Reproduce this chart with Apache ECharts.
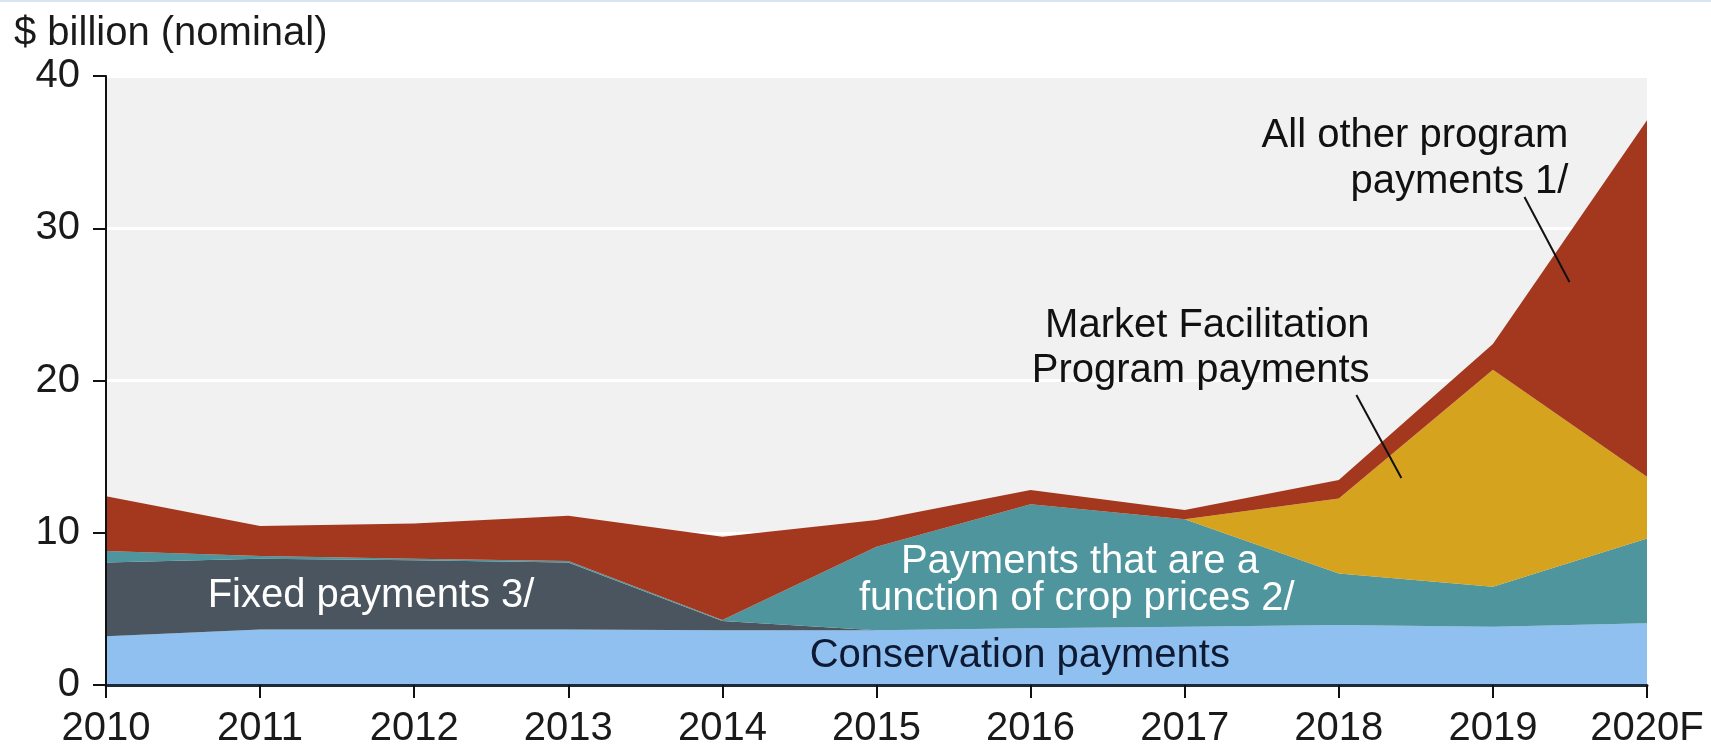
<!DOCTYPE html>
<html>
<head>
<meta charset="utf-8">
<script src="https://cdn.jsdelivr.net/npm/echarts/dist/echarts.min.js"></script>
<style>
  html, body { margin: 0; padding: 0; background: #fff; }
  #chart { width: 1711px; height: 752px; }
</style>
</head>
<body>
<div id="chart"></div>
<script>
// $ billion (nominal)
const years = ["2010", "2011", "2012", "2013", "2014", "2015", "2016", "2017", "2018", "2019", "2020F"];
const conservation = [3.2, 3.65, 3.65, 3.65, 3.6, 3.6, 3.72, 3.83, 3.94, 3.83, 4.05];
const fixedPay = [4.85, 4.65, 4.55, 4.4, 0.6, 0, 0, 0, 0, 0, 0];
const cropPrice = [0.75, 0.17, 0.1, 0.1, 0.07, 5.48, 8.16, 7.05, 3.39, 2.63, 5.58];
const mfp = [0, 0, 0, 0, 0, 0, 0, 0, 4.92, 14.24, 4.05];
const allOther = [3.6, 1.97, 2.3, 2.96, 5.47, 1.75, 0.92, 0.61, 1.21, 1.7, 23.42];
const yTicks = [0, 10, 20, 30, 40];

// annotation text, placed in data space: [year index, value]
const notes = [
  { text: "All other program", at: [9.49, 36.05], align: "right", color: "#111" },
  { text: "payments 1/", at: [9.49, 33.05], align: "right", color: "#111" },
  { text: "Market Facilitation", at: [8.2, 23.55], align: "right", color: "#111" },
  { text: "Program payments", at: [8.2, 20.6], align: "right", color: "#111" },
  { text: "Payments that are a", at: [6.32, 8.1], align: "center", color: "#fff" },
  { text: "function of crop prices 2/", at: [6.3, 5.62], align: "center", color: "#fff" },
  { text: "Conservation payments", at: [5.93, 1.88], align: "center", color: "#0e1a33" },
  { text: "Fixed payments 3/", at: [1.72, 5.82], align: "center", color: "#fff" }
];
const leaders = [
  [[9.205, 32.05], [9.497, 26.47]],
  [[8.114, 19.05], [8.406, 13.6]]
];

const FONT = "Liberation Sans, Arial, Helvetica, sans-serif";
const chart = echarts.init(document.getElementById("chart"), null, { renderer: "canvas" });

function areaSeries(name, data, color) {
  return {
    name,
    type: "line",
    stack: "total",
    data,
    symbol: "none",
    lineStyle: { width: 0 },
    areaStyle: { color, opacity: 1 },
    emphasis: { disabled: true },
    silent: true,
    z: 2
  };
}

const yRange = { min: yTicks[0], max: yTicks[yTicks.length - 1], interval: 10 };

chart.setOption({
  animation: false,
  grid: {
    left: 106, right: 64, top: 76, bottom: 67,
    show: true, backgroundColor: "#f1f1f1", borderWidth: 0
  },
  xAxis: [
    {
      type: "category",
      data: years,
      boundaryGap: false,
      axisLine: { show: true, lineStyle: { color: "#1d2a3a", width: 3 } },
      axisTick: { show: true, length: 13, lineStyle: { color: "#111", width: 2 } },
      axisLabel: { fontSize: 40, color: "#1a1a1a", fontFamily: FONT, margin: 24 },
      splitLine: { show: false },
      z: 5
    },
    { type: "value", min: 0, max: years.length - 1, show: false }
  ],
  yAxis: [
    {
      // labels + white gridlines, kept under the areas
      type: "value",
      ...yRange,
      position: "left",
      axisLine: { show: false },
      axisTick: { show: true, length: 13, lineStyle: { color: "#111", width: 2 } },
      axisLabel: { fontSize: 40, color: "#1a1a1a", fontFamily: FONT, margin: 26 },
      splitLine: { show: true, lineStyle: { color: "#ffffff", width: 3 } },
      z: 1
    },
    {
      // axis line on top of the areas
      type: "value",
      ...yRange,
      position: "left",
      offset: 0,
      axisLine: { show: true, lineStyle: { color: "#111", width: 2 } },
      axisTick: { show: false },
      axisLabel: { show: false },
      splitLine: { show: false },
      z: 6
    }
  ],
  series: [
    areaSeries("Conservation payments", conservation, "#8fc0ef"),
    areaSeries("Fixed payments 3/", fixedPay, "#4a555f"),
    areaSeries("Payments that are a function of crop prices 2/", cropPrice, "#4f959d"),
    areaSeries("Market Facilitation Program payments", mfp, "#d5a31e"),
    areaSeries("All other program payments 1/", allOther, "#a4381e")
  ]
});

function toPx(pt) {
  return [
    chart.convertToPixel({ xAxisIndex: 1 }, pt[0]),
    chart.convertToPixel({ yAxisIndex: 0 }, pt[1])
  ];
}

const graphics = [
  {
    type: "rect",
    shape: { x: 0, y: 0, width: 1711, height: 2 },
    style: { fill: "#d7e5f2" },
    silent: true
  },
  {
    type: "text",
    x: 14, y: 34,
    style: {
      text: "$ billion (nominal)", font: "40px " + FONT, fill: "#1a1a1a",
      textAlign: "left", textVerticalAlign: "middle"
    },
    silent: true
  }
];

notes.forEach((n) => {
  const [x, y] = toPx(n.at);
  graphics.push({
    type: "text",
    x, y,
    z: 20,
    style: {
      text: n.text, font: "40px " + FONT, fill: n.color,
      textAlign: n.align, textVerticalAlign: "middle"
    },
    silent: true
  });
});

leaders.forEach(([a, b]) => {
  const p1 = toPx(a);
  const p2 = toPx(b);
  graphics.push({
    type: "line",
    z: 20,
    shape: { x1: p1[0], y1: p1[1], x2: p2[0], y2: p2[1] },
    style: { stroke: "#111", lineWidth: 2 },
    silent: true
  });
});

chart.setOption({ graphic: graphics });
</script>
</body>
</html>
